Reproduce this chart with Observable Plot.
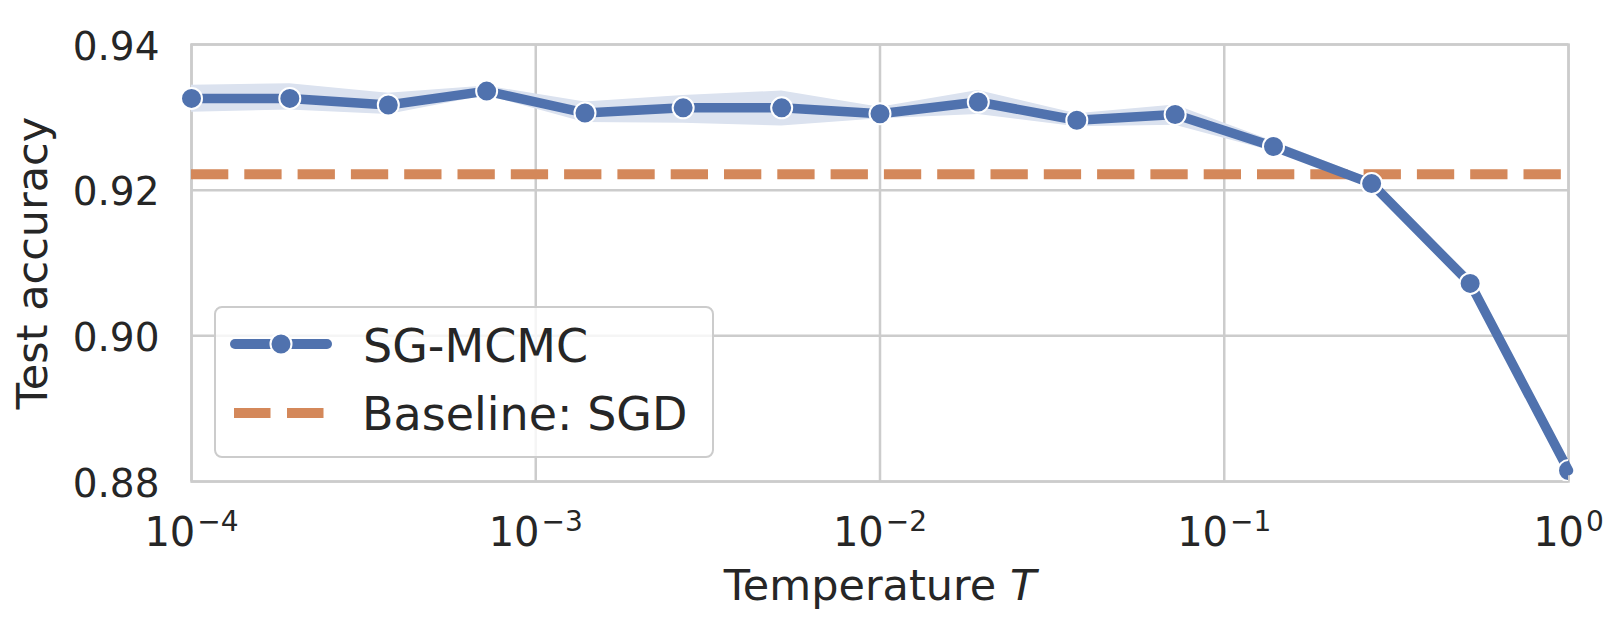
<!DOCTYPE html>
<html>
<head>
<meta charset="utf-8">
<script src="https://cdn.jsdelivr.net/npm/d3@7"></script>
<script src="https://cdn.jsdelivr.net/npm/@observablehq/plot@0.6"></script>
<style>
  html, body { margin: 0; padding: 0; background: white; }
  #wrap { position: relative; width: 1620px; height: 620px; font-family: "DejaVu Sans", sans-serif; color: #262626; }
  #legendBox { position: absolute; left: 214px; top: 306px; width: 500px; height: 152px; box-sizing: border-box;
    border: 2.5px solid #cccccc; border-radius: 8px; background: rgba(255,255,255,0.8); }
  #legendSvg { position: absolute; left: 214px; top: 306px; overflow: visible; }
</style>
</head>
<body>
<div id="wrap"></div>
<script>
// ---- data ----
const temperature = [1e-4, 1.93e-4, 3.73e-4, 7.20e-4, 1.39e-3, 2.68e-3, 5.18e-3, 1.00e-2, 1.93e-2, 3.73e-2, 7.20e-2, 0.139, 0.268, 0.518, 1];
const accuracy     = [0.9326, 0.9326, 0.9317, 0.9336, 0.9306, 0.9313, 0.9313, 0.9305, 0.9321, 0.9296, 0.9304, 0.9260, 0.9209, 0.9072, 0.8815];
const accuracyLow  = [0.9307, 0.9310, 0.9304, 0.9330, 0.9293, 0.9292, 0.9288, 0.9298, 0.9304, 0.9287, 0.9289, 0.9253, 0.9204, 0.9064, 0.8810];
const accuracyHigh = [0.9344, 0.9346, 0.9333, 0.9343, 0.9321, 0.9330, 0.9336, 0.9314, 0.9337, 0.9305, 0.9317, 0.9267, 0.9215, 0.9082, 0.8821];
const baselineSGD = 0.9222;
const xTicks = [1e-4, 1e-3, 1e-2, 1e-1, 1];
const xTickExponents = ["\u22124", "\u22123", "\u22122", "\u22121", "0"];
const yTicks = [0.88, 0.90, 0.92, 0.94];
const seriesNames = ["SG-MCMC", "Baseline: SGD"];
const yLabel = "Test accuracy";
const xLabel = "Temperature T";

const blue = "#5072ae";
const orange = "#d4885a";
const band = "#dbe2ef";
const gridColor = "#cccccc";

const rows = temperature.map((t, i) => ({t, acc: accuracy[i], lo: accuracyLow[i], hi: accuracyHigh[i]}));
const xTickRows = xTicks.map((t, i) => ({t, label: "10" + xTickExponents[i], exp: xTickExponents[i]}));

const svg = Plot.plot({
  width: 1620,
  height: 620,
  marginLeft: 191,
  marginRight: 52,
  marginTop: 44,
  marginBottom: 139,
  style: {fontFamily: "DejaVu Sans", color: "#262626", background: "white", overflow: "visible"},
  x: {type: "log", domain: [1e-4, 1], axis: null},
  y: {domain: [0.88, 0.94], axis: null},
  marks: [
    Plot.ruleX(xTicks, {x: d => d, stroke: gridColor, strokeWidth: 2.5}),
    Plot.ruleY(yTicks, {y: d => d, stroke: gridColor, strokeWidth: 2.5}),
    Plot.frame({stroke: gridColor, strokeWidth: 2.5}),
    Plot.areaY(rows, {x: "t", y1: "lo", y2: "hi", fill: band}),
    Plot.ruleY([baselineSGD], {y: d => d, stroke: orange, strokeWidth: 10, strokeDasharray: "37.3,16"}),
    Plot.line(rows, {x: "t", y: "acc", stroke: blue, strokeWidth: 9.5, strokeLinejoin: "round"}),
    Plot.dot(rows.slice(0, -1), {x: "t", y: "acc", r: 10.5, fill: blue, stroke: "white", strokeWidth: 2}),
    Plot.dot(rows.slice(-1), {x: "t", y: "acc", r: 10.5, fill: blue, stroke: "white", strokeWidth: 2, clip: true}),
    // y tick labels
    Plot.text(yTicks, {y: d => d, text: d => d3.format(".2f")(d), frameAnchor: "left", textAnchor: "end",
      lineAnchor: "bottom", dx: -32, dy: 15, fontSize: 39, fill: "#262626"}),
    // x tick labels
    Plot.text(xTickRows, {x: "t", text: "label", frameAnchor: "bottom", textAnchor: "middle", lineAnchor: "bottom", dy: 64,
      fontSize: 40, fill: "#262626"}),
    // axis labels
    Plot.text([yLabel], {text: d => d, frameAnchor: "left", textAnchor: "middle", rotate: -90, lineAnchor: "bottom",
      dx: -144.5, fontSize: 43, fill: "#262626"}),
    Plot.text([xLabel], {text: d => d, frameAnchor: "bottom", textAnchor: "middle", lineAnchor: "bottom",
      dy: 118, fontSize: 43, fill: "#262626"})
  ]
});

// superscripts for the x tick labels, italic T in the x label
const tickLabelSet = new Map(xTickRows.map(r => [r.label, r.exp]));
d3.select(svg).selectAll("text").each(function() {
  const el = d3.select(this);
  const s = this.textContent;
  if (tickLabelSet.has(s)) {
    el.text(null);
    el.append("tspan").text("10");
    el.append("tspan").attr("dx", 2).attr("dy", -15).attr("font-size", 28).text(tickLabelSet.get(s));
  } else if (s === xLabel) {
    el.text(null);
    el.append("tspan").text("Temperature\u00a0");
    el.append("tspan").attr("font-style", "italic").text("T");
  }
});

const wrap = document.getElementById("wrap");
wrap.appendChild(svg);

// legend (inside the axes)
const box = document.createElement("div");
box.id = "legendBox";
wrap.appendChild(box);
const lg = d3.create("svg").attr("id", "legendSvg").attr("width", 500).attr("height", 152)
  .style("font-family", "DejaVu Sans").style("fill", "#262626");
lg.append("line").attr("x1", 21).attr("x2", 113).attr("y1", 38).attr("y2", 38)
  .attr("stroke", blue).attr("stroke-width", 10).attr("stroke-linecap", "round");
lg.append("circle").attr("cx", 67).attr("cy", 38).attr("r", 10.5)
  .attr("fill", blue).attr("stroke", "white").attr("stroke-width", 2);
lg.append("text").attr("x", 149).attr("y", 56).attr("font-size", 46).attr("fill", "#262626").text(seriesNames[0]);
lg.append("line").attr("x1", 20).attr("x2", 110).attr("y1", 107).attr("y2", 107)
  .attr("stroke", orange).attr("stroke-width", 10).attr("stroke-dasharray", "36.5,16.5");
lg.append("text").attr("x", 148).attr("y", 124).attr("font-size", 46).attr("fill", "#262626").text(seriesNames[1]);
wrap.appendChild(lg.node());
</script>
</body>
</html>
